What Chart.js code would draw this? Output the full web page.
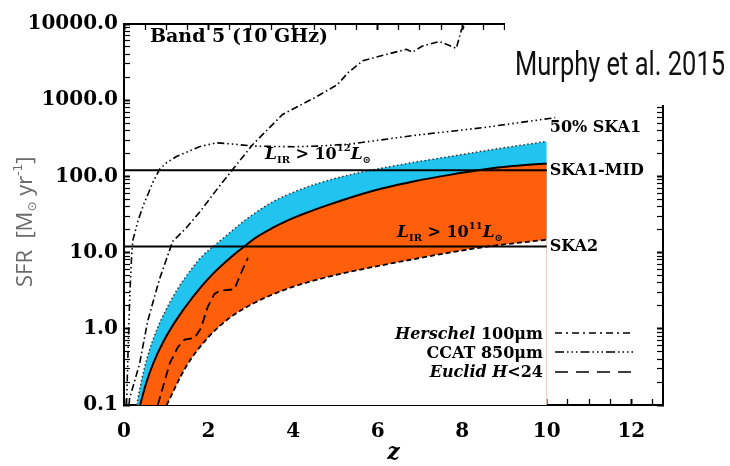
<!DOCTYPE html>
<html>
<head>
<meta charset="utf-8">
<script src="https://cdn.jsdelivr.net/npm/chart.js@4.4.0/dist/chart.umd.min.js"></script>
<style>
  body { margin: 0; background: #fff; }
  #wrap { width: 730px; height: 466px; }
</style>
</head>
<body>
<div id="wrap"><canvas id="sfr" width="730" height="466"></canvas></div>
<script>
const halfSkaZ   = [0.3, 0.38, 0.48, 0.6, 0.72, 0.88, 1.08, 1.31, 1.59, 1.86, 2.18, 2.5, 2.9, 3.5, 4.0, 4.6, 5.5, 6.5, 7.7, 8.8, 10];
const halfSkaSFR = [0.1, 0.17, 0.3, 0.52, 0.81, 1.32, 2.19, 3.63, 6.0, 9.1, 12.9, 18.2, 27.5, 45.7, 61.7, 81.3, 110, 141, 182, 229, 288];

const midZ   = [0.38, 0.52, 0.68, 0.92, 1.23, 1.63, 2.1, 2.57, 2.8, 3.1, 3.5, 3.9, 4.3, 4.8, 5.4, 6.1, 6.9, 7.7, 8.5, 9.2, 10];
const midSFR = [0.1, 0.19, 0.34, 0.66, 1.29, 2.63, 5.25, 9.1, 11.5, 15.5, 20.9, 26.9, 33.1, 41.7, 53.7, 69.2, 87.1, 104.7, 123, 136.5, 148];

const ska2Z   = [1.01, 1.47, 1.98, 2.49, 3.05, 3.83, 4.62, 5.41, 6.9, 8.5, 10];
const ska2SFR = [0.1, 0.32, 0.76, 1.38, 2.14, 3.3, 4.5, 5.7, 8.3, 11.8, 14.8];

const herschelZ   = [0.12, 0.13, 0.37, 0.56, 0.84, 1.15, 1.47, 1.79, 2.26, 2.57, 3.04, 3.75, 4.5, 5.05, 5.3, 5.65, 6.04, 6.68, 6.82, 7.06, 7.46, 7.86, 7.98, 8.09];
const herschelSFR = [0.1, 0.12, 0.35, 1.26, 4.5, 14, 21, 34, 75, 123, 260, 650, 1070, 1600, 2300, 3300, 3770, 4660, 4270, 5150, 5900, 4800, 8300, 10000];

const ccatZ   = [0.06, 0.1, 0.14, 0.18, 0.21, 0.33, 0.46, 0.68, 0.84, 1.0, 1.24, 1.78, 2.19, 2.6, 3.04, 4.0, 4.6, 5.33, 6.9, 8.5, 10.2];
const ccatSFR = [0.1, 0.6, 3, 9, 14.6, 26, 42, 83, 124, 150, 182, 245, 276, 265, 250, 245, 250, 265, 347, 437, 590];

const euclidZ   = [0.8, 1.08, 1.27, 1.43, 1.67, 1.82, 1.98, 2.14, 2.26, 2.61, 2.77, 2.93];
const euclidSFR = [0.1, 0.35, 0.57, 0.72, 0.76, 1.02, 1.94, 2.87, 3.15, 3.3, 5.4, 8.5];

// L_IR > 10^12 and 10^11 Lsun thresholds, drawn out to z = 10
const limitZ = [0, 10];
const lirHigh = [120, 120];
const lirLow = [12, 12];

const zMin = 0, zMax = 12.75;
const sfrMin = 0.1, sfrMax = 10000;

const cyan = '#20c4ef';
const orange = '#ff5e0b';
const serif = "'DejaVu Serif', serif";

function pts(xs, ys) {
  return xs.map((x, i) => ({ x: x, y: ys[i] }));
}

function isDecade(v) {
  const l = Math.log10(v);
  return Math.abs(l - Math.round(l)) < 1e-6;
}

// keep only 1..9 x 10^n ticks on the log axes
function intTicks(scale) {
  scale.ticks = scale.ticks.filter(t => {
    const m = t.value / Math.pow(10, Math.floor(Math.log10(t.value) + 1e-9));
    return Math.abs(m - Math.round(m)) < 1e-6;
  });
}

function runText(ctx, x, y, parts, align) {
  let w = 0;
  parts.forEach(p => { ctx.font = p[1]; w += ctx.measureText(p[0]).width; });
  let cx = align === 'right' ? x - w : x;
  ctx.textAlign = 'left';
  parts.forEach(p => {
    ctx.font = p[1];
    ctx.fillText(p[0], cx, y + (p[2] || 0));
    cx += ctx.measureText(p[0]).width;
  });
  return w;
}

function fitText(ctx, text, x, y, width, font) {
  ctx.font = font;
  const w = ctx.measureText(text).width;
  ctx.save();
  ctx.translate(x, y);
  ctx.scale(width / w, 1);
  ctx.fillText(text, 0, 0);
  ctx.restore();
}

const notes = {
  id: 'notes',
  afterDraw(chart) {
    const ctx = chart.ctx;
    const xs = chart.scales.x, ys = chart.scales.y;
    ctx.save();
    ctx.fillStyle = '#000';
    ctx.textBaseline = 'alphabetic';

    ctx.font = 'bold 19px ' + serif;
    ctx.fillText('Band 5 (10 GHz)', 150, 42);

    // band names at the right end
    const xr = xs.getPixelForValue(10) + 3;
    ctx.font = 'bold 16px ' + serif;
    ctx.textBaseline = 'middle';
    ctx.fillText('50% SKA1', xr, 128);
    ctx.fillText('SKA1-MID', xr, ys.getPixelForValue(lirHigh[0]));
    ctx.fillText('SKA2', xr, ys.getPixelForValue(lirLow[0]));
    ctx.textBaseline = 'alphabetic';

    const it = 'italic bold 17px ' + serif, bd = 'bold 16px ' + serif, sm = 'bold 10px ' + serif;
    runText(ctx, 265, 159, [['L', it], ['IR', sm, 4], [' > 10', bd], ['12', sm, -8], ['L', it], ['\u2299', sm, 4]]);
    runText(ctx, 397, 237, [['L', it], ['IR', sm, 4], [' > 10', bd], ['11', sm, -8], ['L', it], ['\u2299', sm, 4]]);

    // legend
    const lf = 'bold 16px ' + serif, li = 'italic bold 16px ' + serif;
    runText(ctx, 543, 339, [['Herschel', li], [' 100\u03BCm', lf]], 'right');
    runText(ctx, 543, 358, [['CCAT 850\u03BCm', lf]], 'right');
    runText(ctx, 543, 377, [['Euclid', li], [' ', lf], ['H', li], ['<24', lf]], 'right');
    const leg = [[333, [7, 4, 2, 4]], [352, [9, 3, 1.5, 3, 1.5, 3, 1.5, 3]], [372, [13, 8]]];
    ctx.strokeStyle = '#000';
    ctx.lineWidth = 1.6;
    leg.forEach(l => {
      ctx.setLineDash(l[1]);
      ctx.beginPath();
      ctx.moveTo(555, l[0]);
      ctx.lineTo(633, l[0]);
      ctx.stroke();
    });
    ctx.setLineDash([]);

    // y axis title, M_sun subscript and yr^-1 superscript
    ctx.save();
    ctx.translate(32, 287);
    ctx.rotate(-Math.PI / 2);
    ctx.fillStyle = '#6b6b6b';
    const tf = "22px 'Open Sans', sans-serif", ts = "12px 'DejaVu Sans', sans-serif";
    runText(ctx, 0, 0, [['SFR  [M', tf], ['\u2299', ts, 4], [' yr', tf], ['-1', ts, -10], [']', tf]]);
    ctx.restore();

    // credit
    ctx.fillStyle = '#fff';
    ctx.fillRect(505, 17, 225, 88);
    ctx.fillStyle = '#111';
    fitText(ctx, 'Murphy et al. 2015', 515, 75, 210, "34px Roboto, sans-serif");
    ctx.restore();
  }
};

const hidden = { display: false };

new Chart(document.getElementById('sfr'), {
  type: 'line',
  data: {
    datasets: [
      {
        label: '50% SKA1',
        data: pts(halfSkaZ, halfSkaSFR),
        borderColor: '#333',
        borderWidth: 1.5,
        borderDash: [1.5, 2.5],
        backgroundColor: cyan,
        fill: 'start',
        cubicInterpolationMode: 'monotone',
        order: 6
      },
      {
        label: 'SKA1-MID',
        data: pts(midZ, midSFR),
        borderColor: '#000',
        borderWidth: 2,
        backgroundColor: orange,
        fill: 'start',
        cubicInterpolationMode: 'monotone',
        order: 5
      },
      {
        label: 'SKA2',
        data: pts(ska2Z, ska2SFR),
        borderColor: '#000',
        borderWidth: 1.8,
        borderDash: [5, 3],
        backgroundColor: '#fff',
        fill: 'start',
        cubicInterpolationMode: 'monotone',
        order: 4
      },
      {
        label: 'L_IR > 10^12',
        data: pts(limitZ, lirHigh),
        borderColor: '#000',
        borderWidth: 2,
        order: 1
      },
      {
        label: 'L_IR > 10^11',
        data: pts(limitZ, lirLow),
        borderColor: '#000',
        borderWidth: 2,
        order: 1
      },
      {
        label: 'Herschel 100um',
        data: pts(herschelZ, herschelSFR),
        borderColor: '#000',
        borderWidth: 1.6,
        borderDash: [7, 3, 1.5, 3],
        order: 1
      },
      {
        label: 'CCAT 850um',
        data: pts(ccatZ, ccatSFR),
        borderColor: '#000',
        borderWidth: 1.6,
        borderDash: [7, 3, 1.5, 3, 1.5, 3, 1.5, 3],
        order: 1
      },
      {
        label: 'Euclid H<24',
        data: pts(euclidZ, euclidSFR),
        borderColor: '#000',
        borderWidth: 1.8,
        borderDash: [9, 5],
        order: 1
      }
    ]
  },
  options: {
    responsive: false,
    animation: false,
    elements: { point: { radius: 0 }, line: { tension: 0 } },
    plugins: { legend: hidden, tooltip: { enabled: false } },
    scales: {
      x: {
        type: 'linear', position: 'bottom', min: zMin, max: zMax, z: 1,
        ticks: {
          stepSize: 0.5, includeBounds: false, autoSkip: false, maxRotation: 0, padding: 21,
          color: '#000', font: { family: serif, size: 20, weight: 'bold' },
          callback: v => (v % 2 === 0 ? String(v) : '')
        },
        grid: { drawOnChartArea: false, tickLength: -6, tickColor: '#000', tickWidth: c => (c.tick && c.tick.value % 2 === 0 ? 2 : 1.3) },
        border: { color: '#000', width: 2 },
        title: { display: true, text: 'z', color: '#000', padding: 0, font: { family: serif, size: 22, weight: 'bold', style: 'italic' } },
        afterFit: s => { s.height = 61; }
      },
      x2: {
        type: 'linear', position: 'top', min: zMin, max: zMax, z: 1,
        ticks: { display: false, stepSize: 0.5, includeBounds: false, autoSkip: false },
        grid: { drawOnChartArea: false, tickLength: -6, tickColor: '#000', tickWidth: c => (c.tick && c.tick.value % 2 === 0 ? 2 : 1.3) },
        border: { color: '#000', width: 2 },
        afterFit: s => { s.height = 14; }
      },
      y: {
        type: 'logarithmic', position: 'left', min: sfrMin, max: sfrMax, z: 1,
        afterBuildTicks: intTicks,
        ticks: {
          autoSkip: false, padding: 12, color: '#000',
          font: { family: serif, size: 20, weight: 'bold' },
          callback: v => (isDecade(v) ? v.toFixed(1) : '')
        },
        grid: { drawOnChartArea: false, tickLength: -6, tickColor: '#000', tickWidth: c => (c.tick && isDecade(c.tick.value) ? 2 : 1.2) },
        border: { color: '#000', width: 2 },
        afterFit: s => { s.width = 124; }
      },
      y2: {
        type: 'logarithmic', position: 'right', min: sfrMin, max: sfrMax, z: 1,
        afterBuildTicks: intTicks,
        ticks: { display: false, autoSkip: false },
        grid: { drawOnChartArea: false, tickLength: -6, tickColor: '#000', tickWidth: c => (c.tick && isDecade(c.tick.value) ? 2 : 1.2) },
        border: { color: '#000', width: 2 },
        afterFit: s => { s.width = 67; }
      }
    }
  },
  plugins: [notes]
});
</script>
</body>
</html>
